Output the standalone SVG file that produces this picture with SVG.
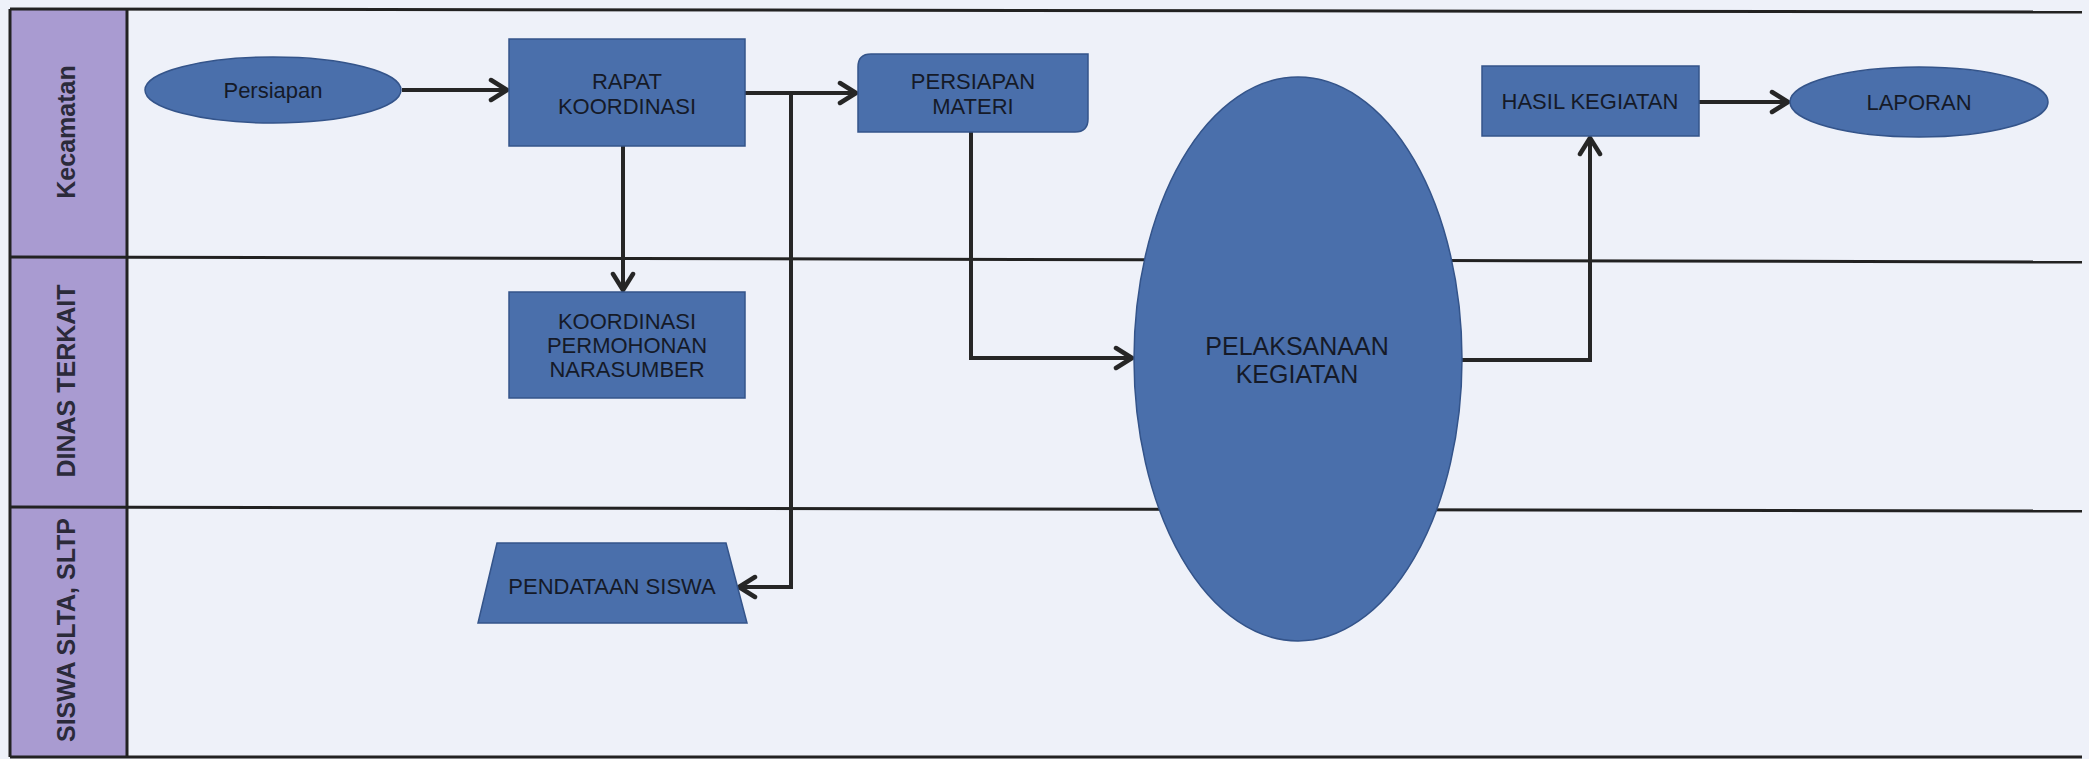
<svg xmlns="http://www.w3.org/2000/svg" width="2089" height="759" viewBox="0 0 2089 759">
<style>
.lane{fill:#eef1f9}
.hdr{fill:#a99bd1}
.bline{stroke:#222;stroke-width:3;fill:none}
.lt{font-family:"Liberation Sans",Arial,sans-serif;font-weight:bold;font-size:25px;fill:#2b2a3a;text-anchor:middle;dominant-baseline:central}
.node{fill:#4a6fab;stroke:#34548a;stroke-width:1.5}
.nt{font-family:"Liberation Sans",Arial,sans-serif;font-size:22px;fill:#151a28;text-anchor:middle;dominant-baseline:central}
.big{font-size:25px}
.conn{stroke:#262626;stroke-width:4;fill:none}
</style>
<defs>
<marker id="arr" markerUnits="userSpaceOnUse" markerWidth="22" markerHeight="26" refX="19" refY="13" orient="auto">
<path d="M3,3 L19,13 L3,23" fill="none" stroke="#262626" stroke-width="4.5" stroke-linecap="round" stroke-linejoin="round"/>
</marker>
</defs>
<rect x="0" y="0" width="2089" height="759" fill="#eef1f9"/>
<g id="lanes">
<rect class="hdr" x="10" y="9" width="117" height="748"/>
<line class="bline" x1="10" y1="9" x2="2082" y2="12"/>
<line class="bline" x1="10" y1="257" x2="2082" y2="262"/>
<line class="bline" x1="10" y1="507" x2="2082" y2="511"/>
<line class="bline" x1="10" y1="757" x2="2082" y2="757"/>
<line class="bline" x1="10" y1="9" x2="10" y2="757"/>
<line class="bline" x1="127" y1="9" x2="127" y2="757"/>
<text class="lt" transform="translate(66,132) rotate(-90)">Kecamatan</text>
<text class="lt" transform="translate(66,381) rotate(-90)">DINAS TERKAIT</text>
<text class="lt" transform="translate(66,630) rotate(-90)">SISWA SLTA, SLTP</text>
</g>
<g id="connectors">
<path class="conn" d="M402,90 H507" marker-end="url(#arr)"/>
<path class="conn" d="M745,93 H856" marker-end="url(#arr)"/>
<path class="conn" d="M791,93 V587 H739" marker-end="url(#arr)"/>
<path class="conn" d="M623,146 V290" marker-end="url(#arr)"/>
<path class="conn" d="M971,132 V358 H1132" marker-end="url(#arr)"/>
<path class="conn" d="M1462,360 H1590 V138" marker-end="url(#arr)"/>
<path class="conn" d="M1699,102 H1788" marker-end="url(#arr)"/>
</g>
<g id="persiapan">
<ellipse class="node" cx="273" cy="90" rx="128" ry="33"/>
<text class="nt" x="273" y="90">Persiapan</text>
</g>
<g id="rapat">
<rect class="node" x="509" y="39" width="236" height="107"/>
<text class="nt" x="627" y="81">RAPAT</text>
<text class="nt" x="627" y="106">KOORDINASI</text>
</g>
<g id="persiapan-materi">
<path class="node" d="M871,54 H1088 V119 Q1088,132 1075,132 H858 V67 Q858,54 871,54 Z"/>
<text class="nt" x="973" y="81">PERSIAPAN</text>
<text class="nt" x="973" y="106">MATERI</text>
</g>
<g id="koordinasi">
<rect class="node" x="509" y="292" width="236" height="106"/>
<text class="nt" x="627" y="321">KOORDINASI</text>
<text class="nt" x="627" y="345">PERMOHONAN</text>
<text class="nt" x="627" y="369">NARASUMBER</text>
</g>
<g id="pendataan">
<path class="node" d="M497,543 H726 L747,623 H478 Z"/>
<text class="nt" x="612" y="586">PENDATAAN SISWA</text>
</g>
<g id="pelaksanaan">
<ellipse class="node" cx="1298" cy="359" rx="164" ry="282"/>
<text class="nt big" x="1297" y="346">PELAKSANAAN</text>
<text class="nt big" x="1297" y="374">KEGIATAN</text>
</g>
<g id="hasil">
<rect class="node" x="1482" y="66" width="217" height="70"/>
<text class="nt" x="1590" y="101">HASIL KEGIATAN</text>
</g>
<g id="laporan">
<ellipse class="node" cx="1919" cy="102" rx="129" ry="35"/>
<text class="nt" x="1919" y="102">LAPORAN</text>
</g>
</svg>
